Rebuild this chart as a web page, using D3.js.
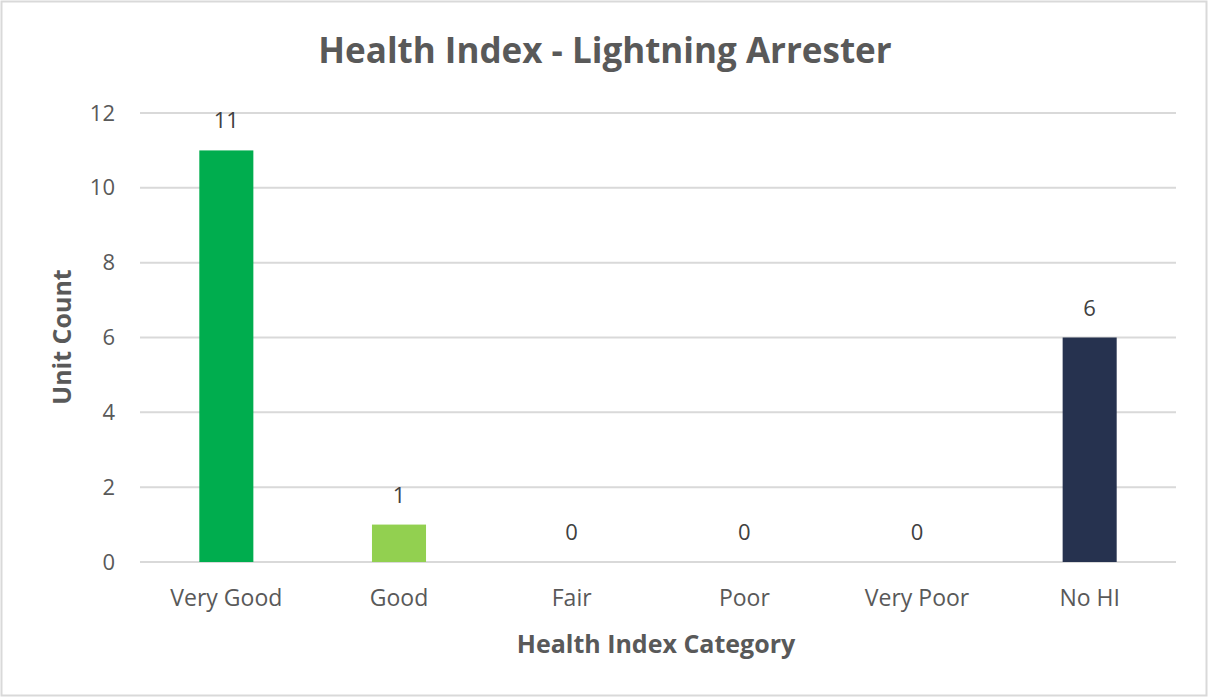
<!DOCTYPE html>
<html><head><meta charset="utf-8">
<script src="https://cdn.jsdelivr.net/npm/d3@7"></script>
<style>body{margin:0;background:#fff;} svg{display:block;}</style>
</head><body>
<script>
const categories = ["Very Good","Good","Fair","Poor","Very Poor","No HI"];
const values = [11,1,0,0,0,6];
const colors = ["#00ad4e","#92d050","#92d050","#92d050","#92d050","#26324f"];
const yTicks = [0,2,4,6,8,10,12];
const title = "Health Index - Lightning Arrester";
const xTitle = "Health Index Category";
const yTitle = "Unit Count";

const W=1209,H=698;
const font = "'Open Sans', 'Liberation Sans', sans-serif";
const svg = d3.select("body").append("svg").attr("width",W).attr("height",H);
svg.append("rect").attr("x",1.5).attr("y",1.5).attr("width",W-4).attr("height",H-4)
  .attr("fill","#fff").attr("stroke","#d9d9d9").attr("stroke-width",2);

const pL=140,pR=1176,pT=113,pB=562;
const x = d3.scaleBand().domain(categories).range([pL,pR]).paddingInner(0.687).paddingOuter(0.3435);
const y = d3.scaleLinear().domain([0,12]).range([pB,pT]);

const grid = svg.append("g");
grid.selectAll("line").data(yTicks).join("line")
  .attr("x1",pL).attr("x2",pR).attr("y1",d=>y(d)).attr("y2",d=>y(d))
  .attr("stroke","#d9d9d9").attr("stroke-width",2);

const yAxis = svg.append("g").attr("transform",`translate(${pL},0)`)
  .call(d3.axisLeft(y).tickValues(yTicks).tickSize(0).tickPadding(25));
yAxis.select(".domain").remove();
yAxis.selectAll("text").attr("font-family",font).attr("font-size",22).attr("fill","#595959");

const xAxis = svg.append("g").attr("transform",`translate(0,${pB})`)
  .call(d3.axisBottom(x).tickSize(0).tickPadding(28));
xAxis.select(".domain").remove();
xAxis.selectAll("text").attr("font-family",font).attr("font-size",23).attr("fill","#595959");

svg.append("g").selectAll("rect").data(categories).join("rect")
  .attr("x",d=>x(d)).attr("width",x.bandwidth())
  .attr("y",(d,i)=>y(values[i])).attr("height",(d,i)=>y(0)-y(values[i]))
  .attr("fill",(d,i)=>colors[i]);

svg.append("g").selectAll("text").data(categories).join("text")
  .attr("x",d=>x(d)+x.bandwidth()/2).attr("y",(d,i)=>y(values[i])-22)
  .attr("text-anchor","middle").attr("font-family",font).attr("font-size",22).attr("fill","#404040")
  .text((d,i)=>values[i]);

svg.append("text").attr("x",605).attr("y",63).attr("text-anchor","middle")
  .attr("font-family",font).attr("font-weight","bold").attr("font-size",35).attr("fill","#595959").text(title);
svg.append("text").attr("x",656).attr("y",653).attr("text-anchor","middle")
  .attr("font-family",font).attr("font-weight","bold").attr("font-size",25).attr("fill","#595959").text(xTitle);
svg.append("text").attr("transform","translate(71,337) rotate(-90)").attr("text-anchor","middle")
  .attr("font-family",font).attr("font-weight","bold").attr("font-size",25).attr("fill","#595959").text(yTitle);
</script>
</body></html>
